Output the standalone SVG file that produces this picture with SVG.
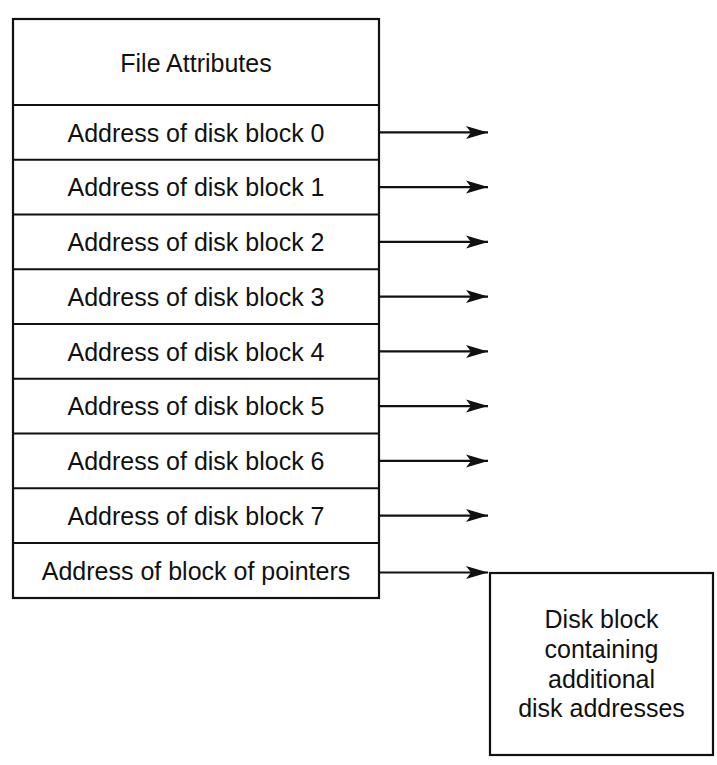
<svg xmlns="http://www.w3.org/2000/svg" width="717" height="765" viewBox="0 0 717 765">
<style>
.box{fill:#fff;stroke:#111;stroke-width:2.2}
.sep{stroke:#111;stroke-width:2.2}
.t{font-family:"Liberation Sans",Arial,sans-serif;font-size:25px;fill:#111;text-anchor:middle}
.c{stroke:#111;stroke-width:2.2;fill:none;marker-end:url(#ah)}
</style>
<defs>
<marker id="ah" markerUnits="userSpaceOnUse" markerWidth="24" markerHeight="14" refX="22" refY="7" orient="auto" viewBox="0 0 24 14">
<path d="M0,0.5 L22,7 L0,13.5 L5,7 Z" fill="#111"/>
</marker>
</defs>
<rect width="717" height="765" fill="#fff"/>
<g id="inode">
<rect class="box" x="13" y="19" width="366" height="579"/>
<line class="sep" x1="13" y1="105" x2="379" y2="105"/>
<line class="sep" x1="13" y1="159.75" x2="379" y2="159.75"/>
<line class="sep" x1="13" y1="214.5" x2="379" y2="214.5"/>
<line class="sep" x1="13" y1="269.25" x2="379" y2="269.25"/>
<line class="sep" x1="13" y1="324" x2="379" y2="324"/>
<line class="sep" x1="13" y1="378.75" x2="379" y2="378.75"/>
<line class="sep" x1="13" y1="433.5" x2="379" y2="433.5"/>
<line class="sep" x1="13" y1="488.25" x2="379" y2="488.25"/>
<line class="sep" x1="13" y1="543" x2="379" y2="543"/>
</g>
<g id="file-attributes"><text class="t" x="196" y="72">File Attributes</text></g>
<g id="block0"><text class="t" x="196" y="141.5">Address of disk block 0</text></g>
<g id="block1"><text class="t" x="196" y="196.2">Address of disk block 1</text></g>
<g id="block2"><text class="t" x="196" y="251">Address of disk block 2</text></g>
<g id="block3"><text class="t" x="196" y="305.7">Address of disk block 3</text></g>
<g id="block4"><text class="t" x="196" y="360.5">Address of disk block 4</text></g>
<g id="block5"><text class="t" x="196" y="415.2">Address of disk block 5</text></g>
<g id="block6"><text class="t" x="196" y="470">Address of disk block 6</text></g>
<g id="block7"><text class="t" x="196" y="524.7">Address of disk block 7</text></g>
<g id="pointers"><text class="t" x="196" y="579.5">Address of block of pointers</text></g>
<g id="disk-block">
<rect class="box" x="490" y="573" width="223" height="182"/>
<text class="t" x="601.5" y="628">Disk block</text>
<text class="t" x="601.5" y="658">containing</text>
<text class="t" x="601.5" y="688">additional</text>
<text class="t" x="601.5" y="717">disk addresses</text>
</g>
<g id="connectors">
<line class="c" x1="379" y1="132.4" x2="488" y2="132.4"/>
<line class="c" x1="379" y1="187.1" x2="488" y2="187.1"/>
<line class="c" x1="379" y1="241.9" x2="488" y2="241.9"/>
<line class="c" x1="379" y1="296.6" x2="488" y2="296.6"/>
<line class="c" x1="379" y1="351.4" x2="488" y2="351.4"/>
<line class="c" x1="379" y1="406.1" x2="488" y2="406.1"/>
<line class="c" x1="379" y1="460.9" x2="488" y2="460.9"/>
<line class="c" x1="379" y1="515.6" x2="488" y2="515.6"/>
<line class="c" x1="379" y1="572.5" x2="488" y2="572.5"/>
</g>
</svg>
